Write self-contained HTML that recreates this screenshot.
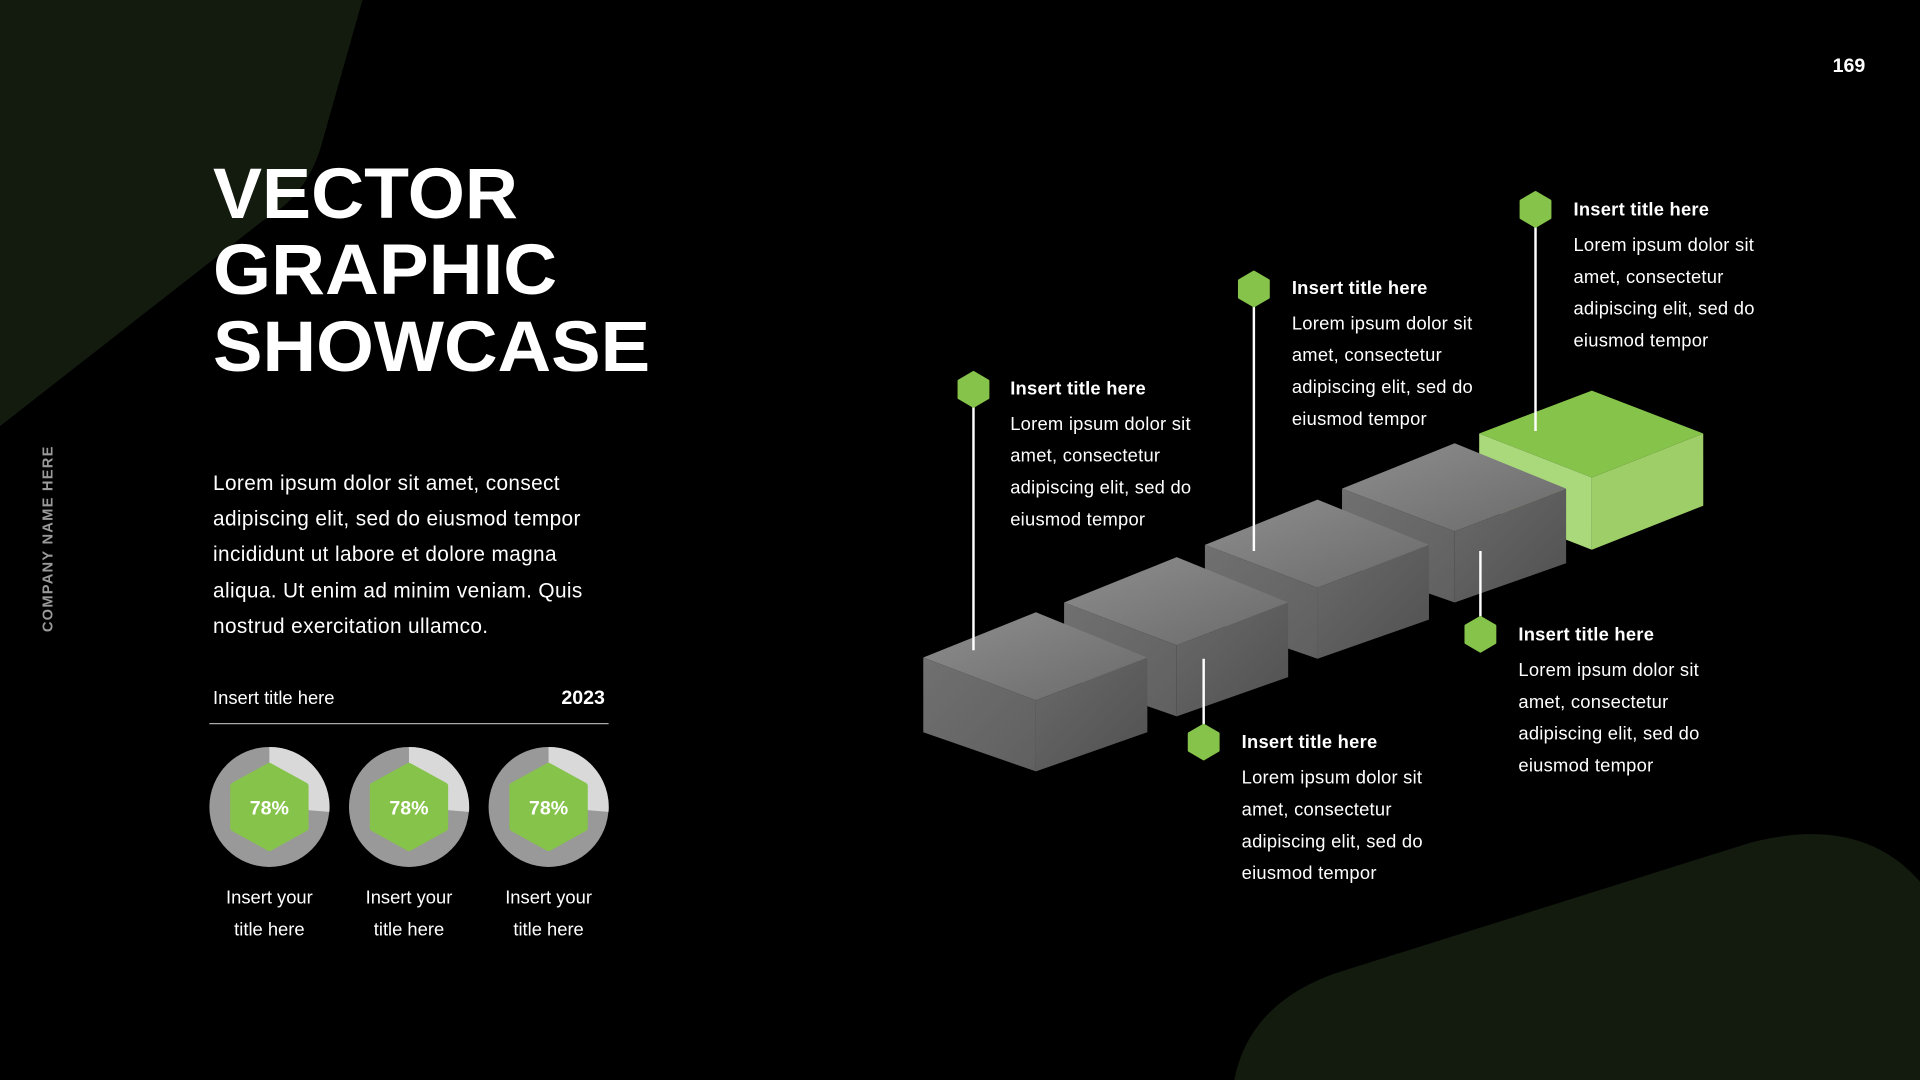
<!DOCTYPE html>
<html><head><meta charset="utf-8"><style>
html,body{margin:0;padding:0;background:#000;width:1920px;height:1080px;overflow:hidden}
svg{display:block}
text{font-family:"Liberation Sans",sans-serif;fill:#fff}
</style></head><body>
<svg width="1920" height="1080" viewBox="0 0 1568 882" xmlns="http://www.w3.org/2000/svg">
<defs>
<linearGradient id="gt" x1="0" y1="0" x2="1" y2="1"><stop offset="0" stop-color="#8e8e8e"/><stop offset="1" stop-color="#6a6a6a"/></linearGradient>
<linearGradient id="gl" x1="0" y1="0" x2="1" y2="1"><stop offset="0" stop-color="#707070"/><stop offset="1" stop-color="#606060"/></linearGradient>
<linearGradient id="gr" x1="0" y1="0" x2="1" y2="1"><stop offset="0" stop-color="#6a6a6a"/><stop offset="1" stop-color="#505050"/></linearGradient>
<g id="cube">
<polygon points="0,0 91,37 0,72 -92,37" fill="url(#gt)"/>
<polygon points="-92,37 0,72 0,130 -92,98" fill="url(#gl)"/>
<polygon points="0,72 91,37 91,98 0,130" fill="url(#gr)"/>
</g>
<g id="pin"><polygon points="0,-14 12,-7 12,7 0,14 -12,7 -12,-7" fill="#86c34a" stroke="#86c34a" stroke-width="2" stroke-linejoin="round"/></g>
</defs>
<rect width="1568" height="882" fill="#000"/>
<path d="M0,0 L296,0 L262,120 Q250,160 215,180 L0,348 Z" fill="#131b0f"/>
<path d="M1008,882 Q1020,820 1090,795 L1430,688 Q1520,665 1568,720 L1568,882 Z" fill="#131b0f"/>
<text x="1510" y="59" font-size="16" font-weight="bold" text-anchor="middle">169</text>
<text transform="translate(43,440) rotate(-90)" font-size="12" font-weight="bold" style="fill:#9a9a9a" text-anchor="middle" letter-spacing="1">COMPANY NAME HERE</text>
<g font-weight="bold" font-size="58">
<text x="174" y="178" textLength="249" lengthAdjust="spacingAndGlyphs">VECTOR</text>
<text x="174" y="240" textLength="281" lengthAdjust="spacingAndGlyphs">GRAPHIC</text>
<text x="174" y="303" textLength="357" lengthAdjust="spacingAndGlyphs">SHOWCASE</text>
</g>
<g font-size="17" letter-spacing="0.3">
<text x="174" y="400">Lorem ipsum dolor sit amet, consect</text>
<text x="174" y="429">adipiscing elit, sed do eiusmod tempor</text>
<text x="174" y="458">incididunt ut labore et dolore magna</text>
<text x="174" y="488">aliqua. Ut enim ad minim veniam.  Quis</text>
<text x="174" y="517">nostrud exercitation ullamco.</text>
</g>
<text x="174" y="575" font-size="15">Insert title here</text>
<text x="494" y="575" font-size="16" font-weight="bold" text-anchor="end">2023</text>
<line x1="171" y1="591" x2="497" y2="591" stroke="#aaa" stroke-width="1"/>
<g id="donut">
<circle cx="220" cy="659" r="49" fill="#999"/>
<path d="M220,659 L220,610 A49,49 0 0 1 269,663 Z" fill="#d9d9d9"/>
<polygon points="220,626 249,642 249,676 220,692 191,676 191,642" fill="#86c34a" stroke="#86c34a" stroke-width="6" stroke-linejoin="round"/>
<text x="220" y="665" font-size="16" font-weight="bold" text-anchor="middle">78%</text>
<text x="220" y="738" font-size="15" text-anchor="middle">Insert your</text>
<text x="220" y="764" font-size="15" text-anchor="middle">title here</text>
</g>
<use href="#donut" x="114"/>
<use href="#donut" x="228"/>
<g transform="translate(1300,319)">
<polygon points="0,0 91,35 0,71 -92,35" fill="#86c34a"/>
<polygon points="-92,35 0,71 0,130 -92,94" fill="#a9d97a"/>
<polygon points="0,71 91,35 91,94 0,130" fill="#9dce67"/>
</g>
<use href="#cube" x="1188" y="362"/>
<use href="#cube" x="1076" y="408"/>
<use href="#cube" x="961" y="455"/>
<use href="#cube" x="846" y="500"/>
<g stroke="#fff" stroke-width="2">
<line x1="795" y1="318" x2="795" y2="531"/>
<line x1="1024" y1="236" x2="1024" y2="450"/>
<line x1="1254" y1="171" x2="1254" y2="352"/>
<line x1="983" y1="538" x2="983" y2="606"/>
<line x1="1209" y1="450" x2="1209" y2="518"/>
</g>
<use href="#pin" x="795" y="318"/>
<use href="#pin" x="1024" y="236"/>
<use href="#pin" x="1254" y="171"/>
<use href="#pin" x="983" y="606"/>
<use href="#pin" x="1209" y="518"/>
<g font-size="15" letter-spacing="0.2">
<g transform="translate(825,322)"><text font-weight="bold">Insert title here</text><text y="29">Lorem ipsum dolor sit</text><text y="55">amet, consectetur</text><text y="81">adipiscing elit, sed do</text><text y="107">eiusmod tempor</text></g>
<g transform="translate(1055,240)"><text font-weight="bold">Insert title here</text><text y="29">Lorem ipsum dolor sit</text><text y="55">amet, consectetur</text><text y="81">adipiscing elit, sed do</text><text y="107">eiusmod tempor</text></g>
<g transform="translate(1285,176)"><text font-weight="bold">Insert title here</text><text y="29">Lorem ipsum dolor sit</text><text y="55">amet, consectetur</text><text y="81">adipiscing elit, sed do</text><text y="107">eiusmod tempor</text></g>
<g transform="translate(1014,611)"><text font-weight="bold">Insert title here</text><text y="29">Lorem ipsum dolor sit</text><text y="55">amet, consectetur</text><text y="81">adipiscing elit, sed do</text><text y="107">eiusmod tempor</text></g>
<g transform="translate(1240,523)"><text font-weight="bold">Insert title here</text><text y="29">Lorem ipsum dolor sit</text><text y="55">amet, consectetur</text><text y="81">adipiscing elit, sed do</text><text y="107">eiusmod tempor</text></g>
</g>
</svg>
</body></html>
